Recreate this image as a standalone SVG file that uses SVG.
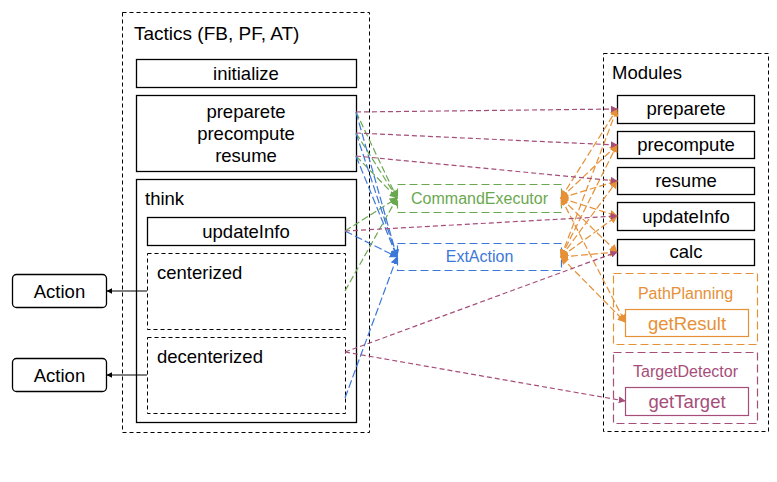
<svg xmlns="http://www.w3.org/2000/svg" width="777" height="482" viewBox="0 0 777 482">
<defs>
<style>
text{font-family:"Liberation Sans",Arial,sans-serif;fill:#000}
.big{font-size:18.5px}
.sm{font-size:16px}
.mid{text-anchor:middle}
.box{fill:#fff;stroke:#000;stroke-width:1.3}
.grp{fill:none;stroke:#000;stroke-width:1;stroke-dasharray:4 3}
.sub{fill:#fff;stroke:#000;stroke-width:1;stroke-dasharray:4 3}
.c{fill:none;stroke-width:1.2;stroke-dasharray:5 3}
.pu{stroke:#a64d79;marker-end:url(#mp)}
.gr{stroke:#6aa84f;stroke-dasharray:7 3;marker-end:url(#mg)}
.bl{stroke:#3c78d8;stroke-dasharray:8 3;marker-end:url(#mb)}
.or{stroke:#e69138;stroke-dasharray:7 3;marker-end:url(#mo);marker-start:url(#mo)}
.bk{fill:none;stroke:#000;stroke-width:1;marker-end:url(#mk)}
</style>
<marker id="mp" viewBox="0 0 10 10" refX="9" refY="5" markerWidth="7" markerHeight="7" markerUnits="userSpaceOnUse" orient="auto-start-reverse"><path d="M0,0L10,5L0,10z" fill="#a64d79"/></marker>
<marker id="mg" viewBox="0 0 10 10" refX="9" refY="5" markerWidth="8" markerHeight="8" markerUnits="userSpaceOnUse" orient="auto-start-reverse"><path d="M0,0L10,5L0,10z" fill="#6aa84f"/></marker>
<marker id="mb" viewBox="0 0 10 10" refX="9" refY="5" markerWidth="8" markerHeight="8" markerUnits="userSpaceOnUse" orient="auto-start-reverse"><path d="M0,0L10,5L0,10z" fill="#3c78d8"/></marker>
<marker id="mo" viewBox="0 0 10 10" refX="9" refY="5" markerWidth="8" markerHeight="8" markerUnits="userSpaceOnUse" orient="auto-start-reverse"><path d="M0,0L10,5L0,10z" fill="#e69138"/></marker>
<marker id="mk" viewBox="0 0 10 10" refX="9" refY="5" markerWidth="6" markerHeight="6" markerUnits="userSpaceOnUse" orient="auto-start-reverse"><path d="M0,0L10,5L0,10z" fill="#000"/></marker>
</defs>
<rect width="777" height="482" fill="#fff"/>

<g id="tactics">
<rect class="grp" x="122.5" y="12.5" width="247" height="420"/>
<text x="134" y="40" style="font-size:19px">Tactics (FB, PF, AT)</text>
</g>
<g id="initialize">
<rect class="box" x="136.5" y="59.5" width="220" height="28"/>
<text class="big mid" x="246" y="80">initialize</text>
</g>
<g id="prepare">
<rect class="box" x="136.5" y="95.5" width="220" height="76"/>
<text class="big mid" x="246" y="118">preparete</text>
<text class="big mid" x="246" y="140">precompute</text>
<text class="big mid" x="246" y="162">resume</text>
</g>
<g id="think">
<rect class="box" x="136.5" y="179.5" width="220" height="243"/>
<text class="big" x="145" y="205">think</text>
</g>
<g id="t-updateInfo">
<rect class="box" x="147.5" y="217.5" width="198" height="28"/>
<text class="big mid" x="246" y="238">updateInfo</text>
</g>
<g id="centerized">
<rect class="sub" x="147.5" y="253.5" width="198" height="76"/>
<text class="big" x="157" y="279">centerized</text>
</g>
<g id="decenterized">
<rect class="sub" x="147.5" y="337.5" width="198" height="76"/>
<text class="big" x="157" y="363">decenterized</text>
</g>
<g id="action1">
<rect class="box" x="12.5" y="274.5" width="94" height="33" rx="4"/>
<text class="big mid" x="59.5" y="298">Action</text>
</g>
<g id="action2">
<rect class="box" x="12.5" y="358.5" width="94" height="33" rx="4"/>
<text class="big mid" x="59.5" y="382">Action</text>
</g>

<g id="cmdexec">
<rect x="397.5" y="184.5" width="164" height="28" fill="#fff" stroke="#6aa84f" stroke-width="1.2" stroke-dasharray="8 4"/>
<text class="sm mid" x="479.5" y="204" style="fill:#6aa84f">CommandExecutor</text>
</g>
<g id="extaction">
<rect x="397.5" y="243.5" width="164" height="27" fill="#fff" stroke="#3c78d8" stroke-width="1.2" stroke-dasharray="8 4"/>
<text class="sm mid" x="479.5" y="262" style="fill:#3c78d8">ExtAction</text>
</g>

<g id="modules">
<rect class="grp" x="603.5" y="53.5" width="165" height="378"/>
<text class="big" x="612" y="79">Modules</text>
</g>
<g id="m-preparete">
<rect class="box" x="617.5" y="95.5" width="137" height="28"/>
<text class="big mid" x="686" y="115">preparete</text>
</g>
<g id="m-precompute">
<rect class="box" x="617.5" y="131.5" width="137" height="27"/>
<text class="big mid" x="686" y="151">precompute</text>
</g>
<g id="m-resume">
<rect class="box" x="617.5" y="167.5" width="137" height="27"/>
<text class="big mid" x="686" y="187">resume</text>
</g>
<g id="m-updateInfo">
<rect class="box" x="617.5" y="202.5" width="137" height="28"/>
<text class="big mid" x="686" y="223">updateInfo</text>
</g>
<g id="m-calc">
<rect class="box" x="617.5" y="239.5" width="137" height="26"/>
<text class="big mid" x="686" y="258">calc</text>
</g>
<g id="pathplanning">
<rect x="613.5" y="273.5" width="144" height="71" fill="none" stroke="#e69138" stroke-width="1.2" stroke-dasharray="8 4"/>
<text class="sm mid" x="685.5" y="299" style="fill:#e69138">PathPlanning</text>
</g>
<g id="getResult">
<rect x="625.5" y="309.5" width="123" height="27" fill="#fff" stroke="#e69138" stroke-width="1.2"/>
<text class="big mid" x="687" y="330" style="fill:#e69138">getResult</text>
</g>
<g id="targetdetector">
<rect x="613.5" y="352.5" width="144" height="71" fill="none" stroke="#a64d79" stroke-width="1.2" stroke-dasharray="8 4"/>
<text class="sm mid" x="685.5" y="377" style="fill:#a64d79">TargetDetector</text>
</g>
<g id="getTarget">
<rect x="625.5" y="387.5" width="123" height="28" fill="#fff" stroke="#a64d79" stroke-width="1.2"/>
<text class="big mid" x="687" y="408" style="fill:#a64d79">getTarget</text>
</g>

<g id="connectors">
<line class="bk" x1="147" y1="291" x2="107" y2="291"/>
<line class="bk" x1="147" y1="375" x2="107" y2="375"/>

<line class="c gr" x1="356" y1="112" x2="397" y2="198"/>
<line class="c gr" x1="356" y1="133" x2="397" y2="198"/>
<line class="c gr" x1="356" y1="156" x2="397" y2="198"/>
<line class="c gr" x1="345" y1="231" x2="397" y2="198"/>
<line class="c gr" x1="345" y1="291" x2="397" y2="198"/>

<line class="c bl" x1="356" y1="112" x2="397" y2="257"/>
<line class="c bl" x1="356" y1="133" x2="397" y2="257"/>
<line class="c bl" x1="356" y1="156" x2="397" y2="257"/>
<line class="c bl" x1="345" y1="231" x2="397" y2="257"/>
<line class="c bl" x1="345" y1="398" x2="397" y2="257"/>

<line class="c or" x1="561" y1="198" x2="617" y2="109"/>
<line class="c or" x1="561" y1="198" x2="617" y2="145"/>
<line class="c or" x1="561" y1="198" x2="617" y2="181"/>
<line class="c or" x1="561" y1="198" x2="617" y2="216"/>
<line class="c or" x1="561" y1="198" x2="617" y2="252"/>
<line class="c or" x1="561" y1="198" x2="625" y2="322"/>
<line class="c or" x1="561" y1="257" x2="617" y2="109"/>
<line class="c or" x1="561" y1="257" x2="617" y2="145"/>
<line class="c or" x1="561" y1="257" x2="617" y2="181"/>
<line class="c or" x1="561" y1="257" x2="617" y2="216"/>
<line class="c or" x1="561" y1="257" x2="617" y2="252"/>
<line class="c or" x1="561" y1="257" x2="625" y2="322"/>

<line class="c pu" x1="356" y1="112" x2="617" y2="109"/>
<line class="c pu" x1="356" y1="133" x2="617" y2="145"/>
<line class="c pu" x1="356" y1="156" x2="617" y2="181"/>
<line class="c pu" x1="345" y1="231" x2="617" y2="216"/>
<line class="c pu" x1="345" y1="352" x2="617" y2="252"/>
<line class="c pu" x1="345" y1="352" x2="625" y2="401"/>
</g>
</svg>
